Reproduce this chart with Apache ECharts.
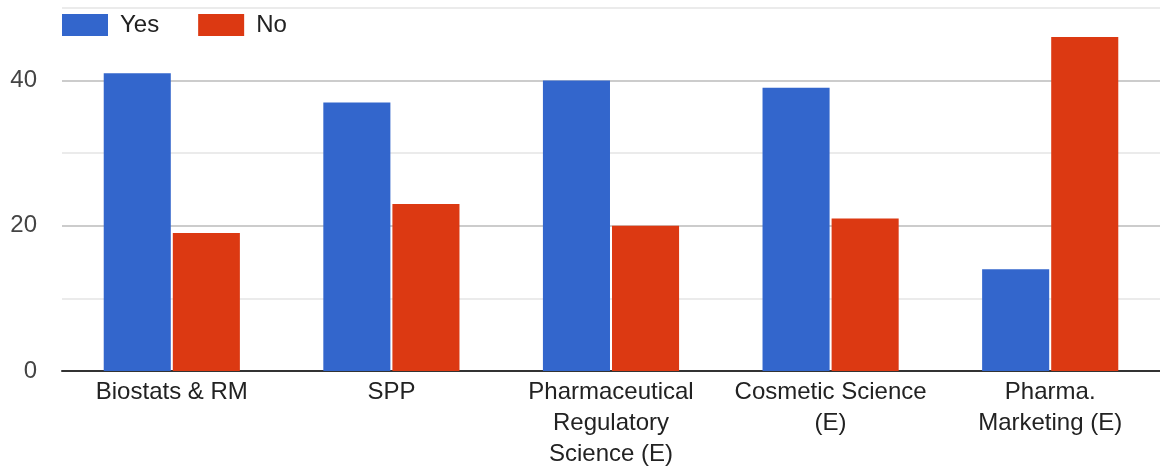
<!DOCTYPE html>
<html><head><meta charset="utf-8">
<script src="https://cdn.jsdelivr.net/npm/echarts@6/dist/echarts.min.js"></script>
<style>html,body{margin:0;padding:0;background:#fff;overflow:hidden}#c{width:1160px;height:470px}</style>
</head><body><div id="c"></div>
<script>
const categories = ['Biostats & RM', 'SPP', 'Pharmaceutical\nRegulatory\nScience (E)', 'Cosmetic Science\n(E)', 'Pharma.\nMarketing (E)'];
const yesValues = [41, 37, 40, 39, 14];
const noValues = [19, 23, 20, 21, 46];
const yTickLabels = [0, 20, 40];

const FONT = 'Liberation Sans, Arial, sans-serif';
const chart = echarts.init(document.getElementById('c'), null, {renderer: 'canvas'});
chart.setOption({
  animation: false,
  textStyle: {fontFamily: FONT},
  legend: {
    left: 62, top: 13, padding: 0, itemWidth: 46, itemHeight: 22, itemGap: 39,
    icon: 'rect',
    textStyle: {fontSize: 24, color: '#222', padding: [0, 0, 0, 7], fontFamily: FONT},
    data: ['Yes', 'No']
  },
  grid: {left: 62, right: -2, top: 8, height: 367, containLabel: false},
  xAxis: {
    type: 'category', data: categories,
    axisLine: {lineStyle: {color: '#333', width: 2}},
    axisTick: {show: false},
    axisLabel: {fontSize: 24, color: '#222', lineHeight: 31, margin: 6, interval: 0, fontFamily: FONT}
  },
  yAxis: {
    type: 'value', min: 0, max: 50, interval: 10,
    axisLine: {show: false}, axisTick: {show: false},
    axisLabel: {fontSize: 24, color: '#444', margin: 25, fontFamily: FONT,
      formatter: v => yTickLabels.includes(v) ? String(v) : ''},
    splitLine: {lineStyle: {color: ['#cccccc', '#ebebeb'], width: 2}}
  },
  series: [
    {name: 'Yes', type: 'bar', data: yesValues, itemStyle: {color: '#3366cc'}, barGap: '3%', barCategoryGap: '38%'},
    {name: 'No', type: 'bar', data: noValues, itemStyle: {color: '#dc3912'}}
  ]
});
</script></body></html>
